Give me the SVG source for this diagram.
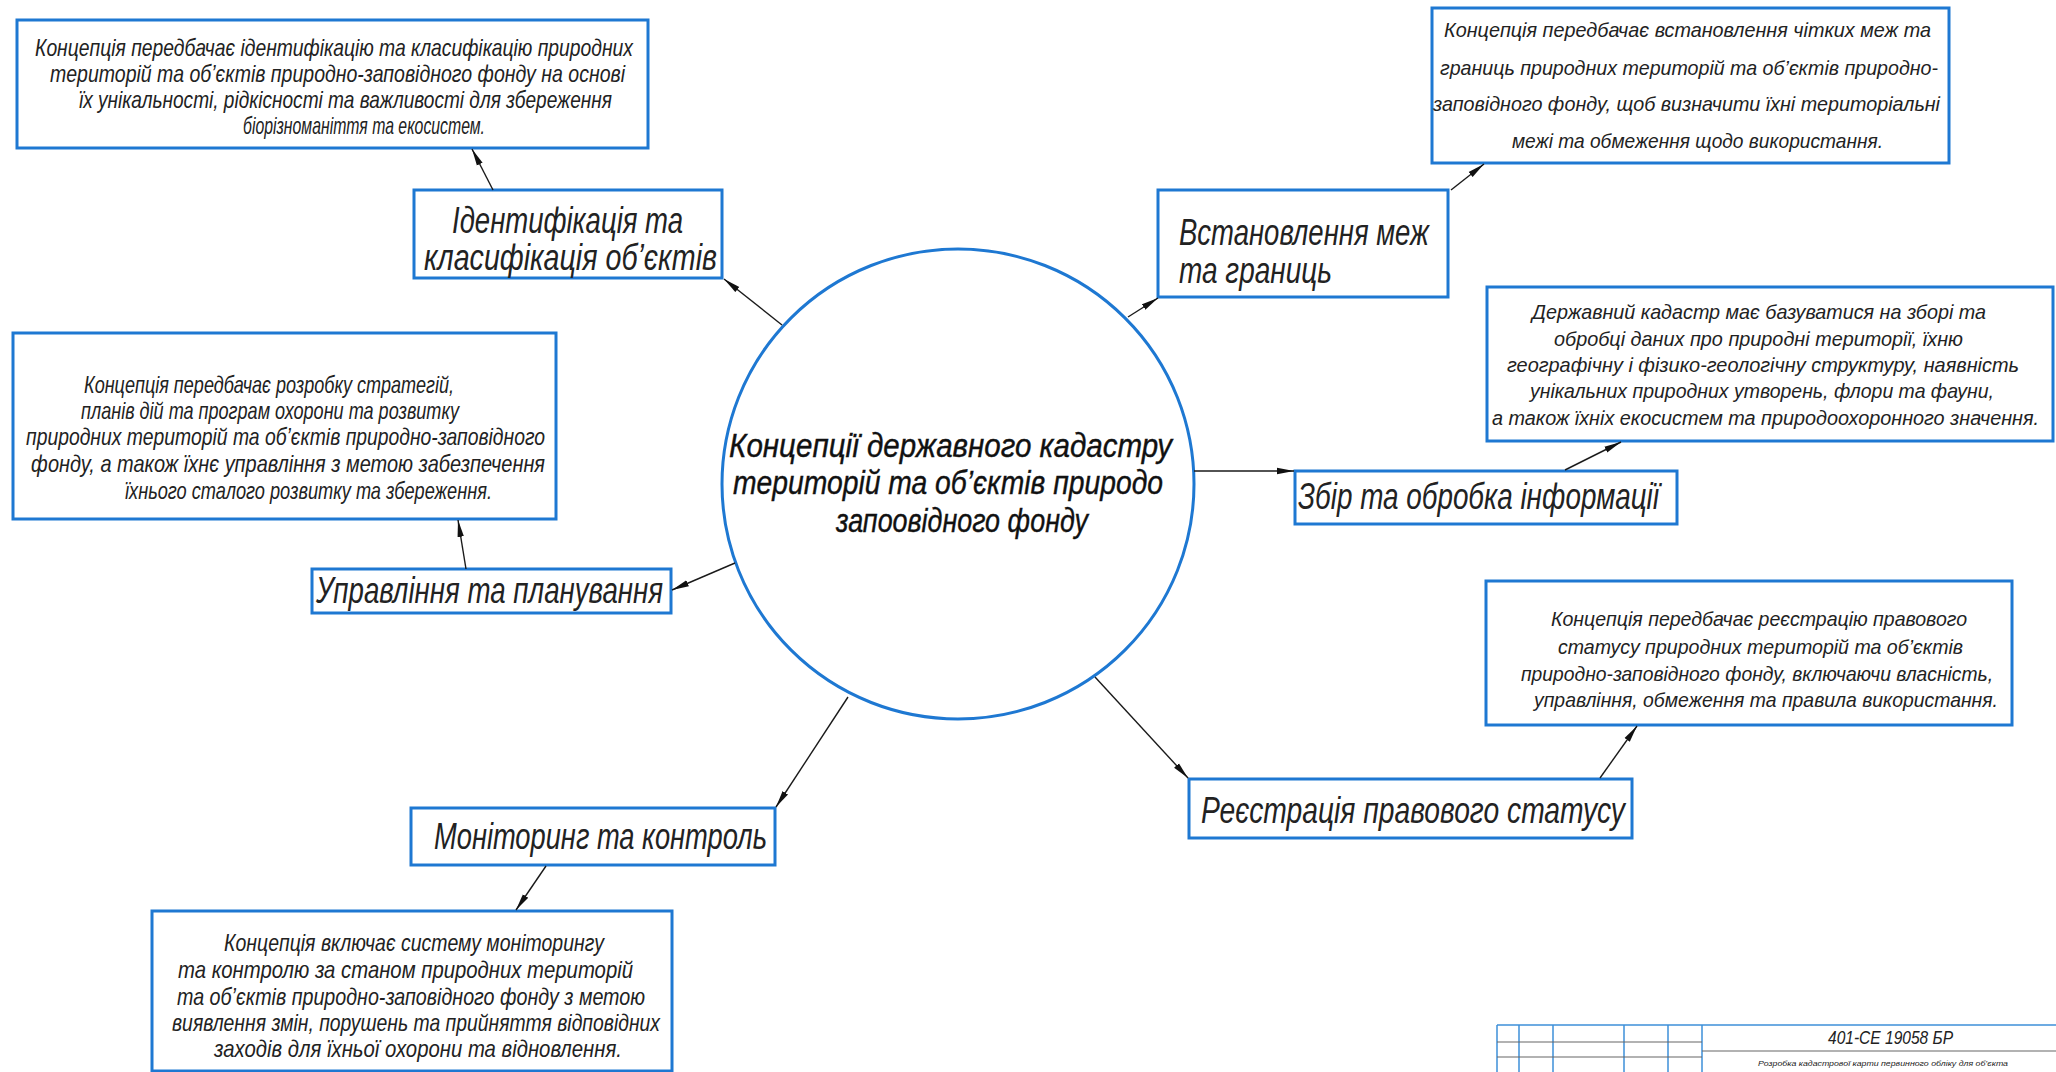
<svg xmlns="http://www.w3.org/2000/svg" width="2056" height="1072" viewBox="0 0 2056 1072">
<defs>
<style>
.box{fill:#fff;stroke:#1e78d2;stroke-width:3}
.circ{fill:#fff;stroke:#1e78d2;stroke-width:3}
.t{font-family:"Liberation Sans Narrow","Liberation Sans","DejaVu Sans",sans-serif;font-style:italic;fill:#222}
.d{font-size:24px}
.ds{font-size:21px}
.l{font-size:36px}
.c{font-size:34px;fill:#111;stroke:#111;stroke-width:0.4}
.con{stroke:#1a1a1a;stroke-width:1.4;fill:none;marker-end:url(#ah)}
.tb{stroke:#3d8fd8;stroke-width:1.5}
.tbh{stroke:#666;stroke-width:1.2}
</style>
<marker id="ah" markerUnits="userSpaceOnUse" markerWidth="18" markerHeight="8" refX="17" refY="4" orient="auto">
<path d="M0,0.8 L17,4 L0,7.2 z" fill="#111"/>
</marker>
</defs>
<rect width="2056" height="1072" fill="#fff"/>

<g id="center">
<ellipse class="circ" cx="958" cy="484" rx="236" ry="235"/>
<text class="t c" x="729" y="457" textLength="443" lengthAdjust="spacingAndGlyphs">Концепції державного кадастру</text>
<text class="t c" x="733" y="494" textLength="430" lengthAdjust="spacingAndGlyphs">територій та об’єктів природо</text>
<text class="t c" x="836" y="532" textLength="252" lengthAdjust="spacingAndGlyphs">запоовідного фонду</text>
</g>

<g id="desc-identification">
<rect class="box" x="17" y="20" width="631" height="128"/>
<text class="t d" x="35" y="56" textLength="598" lengthAdjust="spacingAndGlyphs">Концепція передбачає ідентифікацію та класифікацію природних</text>
<text class="t d" x="50" y="82" textLength="575" lengthAdjust="spacingAndGlyphs">територій та об’єктів природно-заповідного фонду на основі</text>
<text class="t d" x="79" y="108" textLength="533" lengthAdjust="spacingAndGlyphs">їх унікальності, рідкісності та важливості для збереження</text>
<text class="t d" x="243" y="134" textLength="242" lengthAdjust="spacingAndGlyphs">біорізноманіття та екосистем.</text>
</g>

<g id="identification">
<rect class="box" x="414" y="190" width="308" height="88"/>
<text class="t l" x="452" y="233" textLength="231" lengthAdjust="spacingAndGlyphs">Ідентифікація та</text>
<text class="t l" x="424" y="270" textLength="293" lengthAdjust="spacingAndGlyphs">класифікація об’єктів</text>
</g>

<g id="desc-boundaries">
<rect class="box" x="1432" y="8" width="517" height="155"/>
<text class="t ds" x="1444" y="37" textLength="487" lengthAdjust="spacingAndGlyphs">Концепція передбачає встановлення чітких меж та</text>
<text class="t ds" x="1440" y="75" textLength="498" lengthAdjust="spacingAndGlyphs">границь природних територій та об’єктів природно-</text>
<text class="t ds" x="1433" y="111" textLength="507" lengthAdjust="spacingAndGlyphs">заповідного фонду, щоб визначити їхні територіальні</text>
<text class="t ds" x="1512" y="148" textLength="371" lengthAdjust="spacingAndGlyphs">межі та обмеження щодо використання.</text>
</g>

<g id="boundaries">
<rect class="box" x="1158" y="190" width="290" height="107"/>
<text class="t l" x="1179" y="245" textLength="250" lengthAdjust="spacingAndGlyphs">Встановлення меж</text>
<text class="t l" x="1179" y="283" textLength="153" lengthAdjust="spacingAndGlyphs">та границь</text>
</g>

<g id="desc-collection">
<rect class="box" x="1487" y="287" width="566" height="154"/>
<text class="t ds" x="1532" y="319" textLength="454" lengthAdjust="spacingAndGlyphs">Державний кадастр має базуватися на зборі та</text>
<text class="t ds" x="1554" y="346" textLength="409" lengthAdjust="spacingAndGlyphs">обробці даних про природні території, їхню</text>
<text class="t ds" x="1507" y="372" textLength="512" lengthAdjust="spacingAndGlyphs">географічну і фізико-геологічну структуру, наявність</text>
<text class="t ds" x="1530" y="398" textLength="464" lengthAdjust="spacingAndGlyphs">унікальних природних утворень, флори та фауни,</text>
<text class="t" x="1492" y="425" font-size="20" textLength="547" lengthAdjust="spacingAndGlyphs">а також їхніх екосистем та природоохоронного значення.</text>
</g>

<g id="collection">
<rect class="box" x="1295" y="471" width="382" height="53"/>
<text class="t l" x="1298" y="509" textLength="361" lengthAdjust="spacingAndGlyphs">Збір та обробка інформації</text>
</g>

<g id="desc-registration">
<rect class="box" x="1486" y="581" width="526" height="144"/>
<text class="t ds" x="1551" y="626" textLength="416" lengthAdjust="spacingAndGlyphs">Концепція передбачає реєстрацію правового</text>
<text class="t ds" x="1558" y="654" textLength="405" lengthAdjust="spacingAndGlyphs">статусу природних територій та об’єктів</text>
<text class="t ds" x="1521" y="681" textLength="472" lengthAdjust="spacingAndGlyphs">природно-заповідного фонду, включаючи власність,</text>
<text class="t ds" x="1534" y="707" textLength="464" lengthAdjust="spacingAndGlyphs">управління, обмеження та правила використання.</text>
</g>

<g id="registration">
<rect class="box" x="1189" y="779" width="443" height="59"/>
<text class="t l" x="1201" y="823" textLength="424" lengthAdjust="spacingAndGlyphs">Реєстрація правового статусу</text>
</g>

<g id="monitoring">
<rect class="box" x="411" y="808" width="364" height="57"/>
<text class="t l" x="434" y="849" textLength="333" lengthAdjust="spacingAndGlyphs">Моніторинг та контроль</text>
</g>

<g id="desc-monitoring">
<rect class="box" x="152" y="911" width="520" height="160"/>
<text class="t d" x="224" y="951" textLength="380" lengthAdjust="spacingAndGlyphs">Концепція включає систему моніторингу</text>
<text class="t d" x="178" y="978" textLength="455" lengthAdjust="spacingAndGlyphs">та контролю за станом природних територій</text>
<text class="t d" x="177" y="1005" textLength="468" lengthAdjust="spacingAndGlyphs">та об’єктів природно-заповідного фонду з метою</text>
<text class="t d" x="172" y="1031" textLength="488" lengthAdjust="spacingAndGlyphs">виявлення змін, порушень та прийняття відповідних</text>
<text class="t d" x="214" y="1057" textLength="408" lengthAdjust="spacingAndGlyphs">заходів для їхньої охорони та відновлення.</text>
</g>

<g id="management">
<rect class="box" x="312" y="569" width="359" height="44"/>
<text class="t l" x="316" y="603" textLength="347" lengthAdjust="spacingAndGlyphs">Управління та планування</text>
</g>

<g id="desc-management">
<rect class="box" x="13" y="333" width="543" height="186"/>
<text class="t d" x="84" y="393" textLength="370" lengthAdjust="spacingAndGlyphs">Концепція передбачає розробку стратегій,</text>
<text class="t d" x="81" y="419" textLength="378" lengthAdjust="spacingAndGlyphs">планів дій та програм охорони та розвитку</text>
<text class="t d" x="26" y="445" textLength="519" lengthAdjust="spacingAndGlyphs">природних територій та об’єктів природно-заповідного</text>
<text class="t d" x="31" y="472" textLength="514" lengthAdjust="spacingAndGlyphs">фонду, а також їхнє управління з метою забезпечення</text>
<text class="t d" x="125" y="499" textLength="367" lengthAdjust="spacingAndGlyphs">їхнього сталого розвитку та збереження.</text>
</g>

<g id="connectors">
<line class="con" x1="782" y1="325" x2="724" y2="279"/>
<line class="con" x1="493" y1="190" x2="472" y2="149"/>
<line class="con" x1="1128" y1="317" x2="1158" y2="298"/>
<line class="con" x1="1451" y1="190" x2="1484" y2="164"/>
<line class="con" x1="1194" y1="471" x2="1294" y2="471"/>
<line class="con" x1="1565" y1="470" x2="1621" y2="442"/>
<line class="con" x1="1095" y1="677" x2="1188" y2="778"/>
<line class="con" x1="1600" y1="778" x2="1637" y2="726"/>
<line class="con" x1="848" y1="697" x2="776" y2="807"/>
<line class="con" x1="546" y1="866" x2="516" y2="910"/>
<line class="con" x1="735" y1="563" x2="672" y2="590"/>
<line class="con" x1="466" y1="569" x2="458" y2="520"/>
</g>

<g id="title-block">
<line class="tb" x1="1497" y1="1025" x2="2056" y2="1025"/>
<line class="tb" x1="1497" y1="1025" x2="1497" y2="1072"/>
<line class="tb" x1="1519" y1="1025" x2="1519" y2="1072"/>
<line class="tb" x1="1553" y1="1025" x2="1553" y2="1072"/>
<line class="tb" x1="1624" y1="1025" x2="1624" y2="1072"/>
<line class="tb" x1="1668" y1="1025" x2="1668" y2="1072"/>
<line class="tb" x1="1702" y1="1025" x2="1702" y2="1072"/>
<line class="tbh" x1="1497" y1="1042" x2="1702" y2="1042"/>
<line class="tbh" x1="1497" y1="1057" x2="1702" y2="1057"/>
<line class="tbh" x1="1702" y1="1051" x2="2056" y2="1051"/>
<text class="t" x="1828" y="1044" font-size="18" textLength="125" lengthAdjust="spacingAndGlyphs">401-СЕ 19058 БР</text>
<text class="t" x="1758" y="1066" font-size="8" fill="#555" textLength="250" lengthAdjust="spacingAndGlyphs">Розробка кадастрової карти первинного обліку для об’єкта</text>
</g>
</svg>
